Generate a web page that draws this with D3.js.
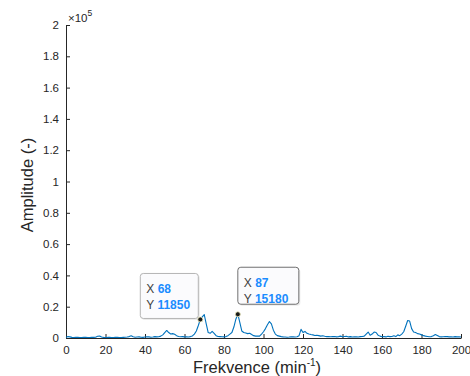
<!DOCTYPE html>
<html>
<head>
<meta charset="utf-8">
<script src="https://cdn.jsdelivr.net/npm/d3@7"></script>
<style>
  body { margin: 0; background: #fff; }
  svg { font-family: "Liberation Sans", Arial, sans-serif; }
  .axis path, .axis line { stroke: #262626; }
  .axis text { fill: #262626; font-size: 11.5px; }
</style>
</head>
<body>
<svg class="spectrum" width="470" height="376"></svg>
<script>
// frequency (min^-1), one sample per unit
let freq = d3.range(0, 201);
// amplitude
let amp = [
  300, 900, 700, 400, 300, 500, 400, 300, 350, 500,
  400, 300, 350, 450, 400, 500, 1100, 1300, 600, 400,
  350, 400, 500, 350, 300, 400, 450, 350, 300, 400,
  500, 600, 900, 1400, 800, 500, 600, 700, 500, 400,
  600, 800, 700, 500, 600, 900, 700, 800, 1200, 2000,
  3500, 4800, 3500, 2600, 2800, 2400, 1500, 1000, 800, 900,
  700, 800, 600, 900, 1300, 2500, 4500, 8000, 11850, 13500,
  15000, 9000, 3500, 3000, 4200, 3000, 1500, 1000, 900, 800,
  700, 900, 1500, 2500, 3500, 7000, 12000, 15180, 10000, 4500,
  3500, 3200, 2800, 3000, 2200, 1500, 1200, 1300, 1200, 2500,
  4000, 6000, 8500, 10500, 9000, 5000, 2500, 1500, 1200, 900,
  700, 600, 500, 600, 800, 700, 600, 800, 1500, 5500,
  3500, 4200, 3000, 2500, 2200, 2000, 1600, 1800, 1500, 1200,
  1400, 1100, 900, 1000, 800, 900, 1000, 700, 900, 1200,
  800, 1000, 1100, 700, 900, 600, 800, 700, 600, 900,
  1000, 1200, 2500, 3800, 1800, 2500, 3800, 3500, 1800, 1200,
  800, 1000, 700, 1100, 900, 1000, 1400, 900, 2000, 1500,
  2500, 4000, 7500, 11200, 10800, 6000, 3800, 3500, 2800, 2500,
  2000, 1500, 1200, 1000, 800, 900, 1500, 2200, 1600, 900,
  700, 800, 1000, 900, 700, 800, 600, 900, 700, 800,
  600
];
let xTicks = d3.range(0, 201, 20);
let yTicks = d3.range(0, 200001, 20000);
// datatips
let tipX = [68, 87];
let tipY = [11850, 15180];

let data = freq.map((f, i) => ({f: f, a: amp[i]}));

let svg = d3.select("body").select(".spectrum");
let margin = {top: 25, right: 9, bottom: 38, left: 66};
let plotWidth = 470 - margin.left - margin.right;
let plotHeight = 376 - margin.top - margin.bottom;

let xScale = d3.scaleLinear().domain([0, 200]).range([0, plotWidth]);
let yScale = d3.scaleLinear().domain([0, 200000]).range([plotHeight, 0]);

let plot = svg.append("g").attr("transform", translate(margin.left, margin.top));

// axes, ticks pointing inward
let xAxis = d3.axisBottom(xScale).tickValues(xTicks).tickSizeInner(-4).tickSizeOuter(0).tickPadding(8);
let yAxis = d3.axisLeft(yScale).tickValues(yTicks).tickSizeInner(-4).tickSizeOuter(0).tickPadding(7)
  .tickFormat(d => d3.format("~g")(d / 100000));

let xGroup = plot.append("g").attr("class", "axis").attr("transform", translate(0, plotHeight)).call(xAxis);
let yGroup = plot.append("g").attr("class", "axis").call(yAxis);
xGroup.select(".domain").attr("stroke-width", 1);
yGroup.select(".domain").attr("stroke-width", 1);

// spectrum line
let line = d3.line().x(d => xScale(d.f)).y(d => yScale(d.a));
plot.append("path")
  .datum(data)
  .attr("fill", "none")
  .attr("stroke", "#0072BD")
  .attr("stroke-width", 1.1)
  .attr("stroke-linejoin", "round")
  .attr("d", line);

// exponent label
let expo = svg.append("text")
  .attr("x", margin.left + 2)
  .attr("y", 22)
  .attr("fill", "#262626")
  .style("font-size", "11.5px");
expo.append("tspan").text("\u00d7");
expo.append("tspan").text("10");
expo.append("tspan").text("5").attr("dy", -6).style("font-size", "8.5px");

// axis labels
let xl = svg.append("text")
  .attr("x", 257)
  .attr("y", 373)
  .attr("text-anchor", "middle")
  .attr("fill", "#262626")
  .style("font-size", "16.5px");
xl.append("tspan").text("Frekvence (min");
xl.append("tspan").text("-1").attr("dy", -7).style("font-size", "10px");
xl.append("tspan").text(")").attr("dy", 7);

svg.append("text")
  .attr("transform", "translate(33,185) rotate(-90)")
  .attr("text-anchor", "middle")
  .attr("fill", "#262626")
  .style("font-size", "16.5px")
  .text("Amplitude (-)");

// datatips: box offsets relative to the marker
let boxes = [
  {dx: -60, dy: -46, w: 58, h: 45},
  {dx: 0, dy: -47, w: 61, h: 37}
];
tipX.forEach(function(tx, i) {
  let px = xScale(tx), py = yScale(tipY[i]);
  let b = boxes[i];
  let g = plot.append("g").attr("transform", translate(px + b.dx, py + b.dy));
  g.append("rect")
    .attr("x", 1.5).attr("y", 1.5)
    .attr("width", b.w).attr("height", b.h)
    .attr("rx", 3)
    .attr("fill", "#d8d8d8").attr("opacity", 0.5);
  g.append("rect")
    .attr("width", b.w).attr("height", b.h)
    .attr("rx", 3)
    .attr("fill", "#fbfbfd")
    .attr("stroke", i == 0 ? "#b4b4b4" : "#707070")
    .attr("stroke-width", 1);
  let rows = [["X", tx], ["Y", tipY[i]]];
  rows.forEach(function(r, j) {
    let t = g.append("text")
      .attr("x", 6)
      .attr("y", 20 + j * 16)
      .style("font-size", "12px");
    t.append("tspan").text(r[0] + " ").attr("fill", "#404040");
    t.append("tspan").text(r[1]).attr("fill", "#1a8cff").style("font-weight", "bold");
  });
  plot.append("circle")
    .attr("cx", px).attr("cy", py).attr("r", 2.5)
    .attr("fill", "#1a1a1a")
    .attr("stroke", "#f4f0c0").attr("stroke-width", 0.8);
});

function translate(x, y) {
  return 'translate(' + x + ',' + y + ')';
}
</script>
</body>
</html>
